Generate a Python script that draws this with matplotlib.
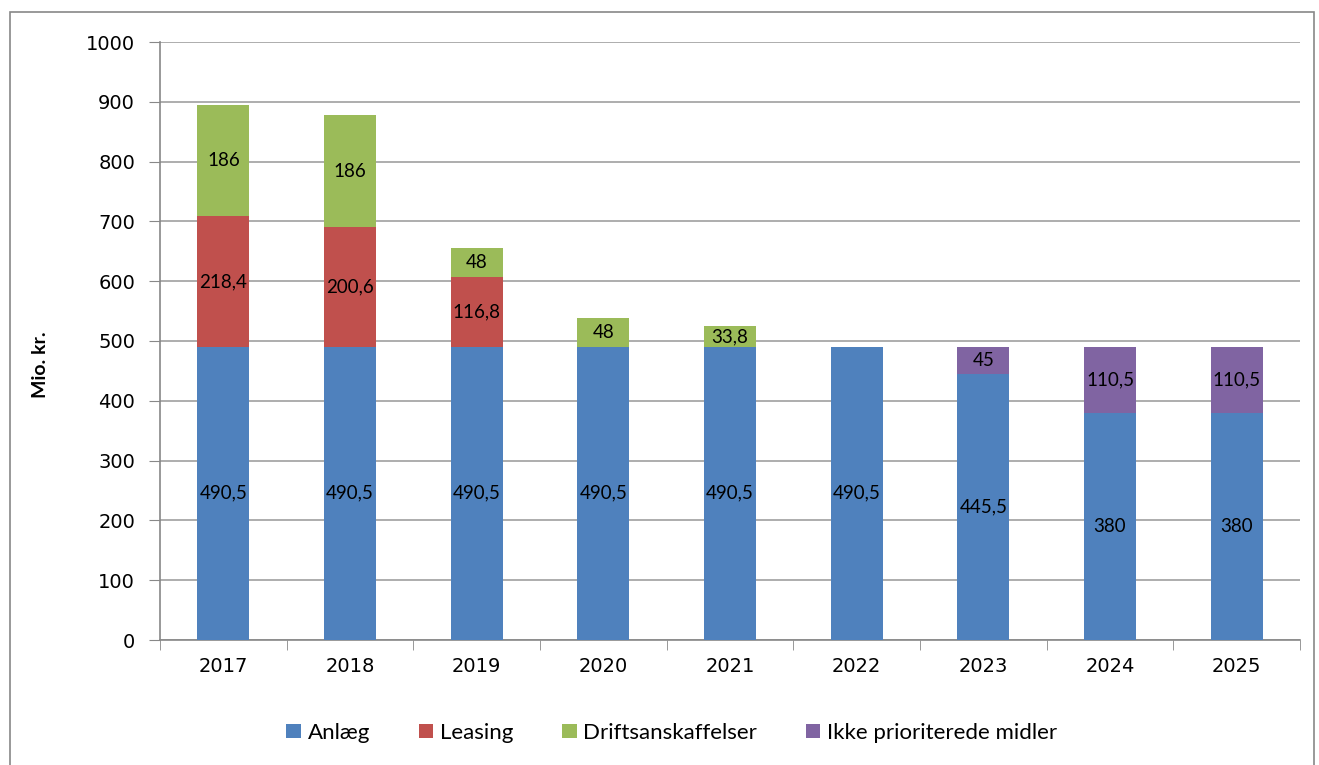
import numpy as np
import matplotlib.pyplot as plt
from matplotlib.patches import Rectangle

years = ['2017', '2018', '2019', '2020', '2021', '2022', '2023', '2024', '2025']
anlaeg = [490.5, 490.5, 490.5, 490.5, 490.5, 490.5, 445.5, 380, 380]
leasing = [218.4, 200.6, 116.8, 0, 0, 0, 0, 0, 0]
drift = [186, 186, 48, 48, 33.8, 0, 0, 0, 0]
ikke = [0, 0, 0, 0, 0, 0, 45, 110.5, 110.5]

series = [
    ('Anlæg', anlaeg, '#4F81BD'),
    ('Leasing', leasing, '#C0504D'),
    ('Driftsanskaffelser', drift, '#9BBB59'),
    ('Ikke prioriterede midler', ikke, '#8064A2'),
]

plt.rcParams['font.family'] = ['Lato', 'DejaVu Sans']

fig = plt.figure(figsize=(13.19, 7.65), dpi=100)
ax = fig.add_axes([160 / 1319, 125 / 765, 1140 / 1319, 598 / 765])

x = np.arange(len(years))
bottom = np.zeros(len(years))
for name, vals, color in series:
    vals = np.array(vals, dtype=float)
    ax.bar(x, vals, 0.41, bottom=bottom, color=color, label=name, zorder=3)
    for xi, b, v in zip(x, bottom, vals):
        if v > 0:
            ax.text(xi, b + v / 2, f'{v:g}'.replace('.', ','), ha='center', va='center',
                    fontsize=13.5, color='black', zorder=4)
    bottom += vals

ax.set_xlim(-0.5, len(years) - 0.5)
ax.set_ylim(0, 1000)
ax.set_yticks(range(0, 1001, 100))
ax.set_xticks(x)
ax.set_xticklabels(years)
ax.set_xticks(np.arange(-0.5, len(years), 1), minor=True)
ax.tick_params(axis='x', which='major', length=0, pad=12, labelsize=14)
ax.tick_params(axis='x', which='minor', length=7, color='#888888')
ax.tick_params(axis='y', length=8, color='#888888', pad=10, labelsize=14)
for lab in ax.get_yticklabels() + ax.get_xticklabels():
    lab.set_family('DejaVu Sans')
ax.grid(axis='y', color='#A0A0A0', linewidth=1.2, zorder=0)
for s in ['top', 'right']:
    ax.spines[s].set_visible(False)
for s in ['left', 'bottom']:
    ax.spines[s].set_color('#888888')
    ax.spines[s].set_linewidth(1.2)

ax.set_ylabel('Mio. kr.', fontsize=14, fontweight='bold')
ax.yaxis.set_label_coords(-0.097, 0.46)

ax.legend(loc='upper center', bbox_to_anchor=(0.449, -0.105), ncol=4, frameon=False,
          fontsize=16, handlelength=0.65, handleheight=0.65, handletextpad=0.3,
          columnspacing=2.2)

fig.patches.append(Rectangle((10 / 1319, -0.01), 1304 / 1319, (765 - 12) / 765 + 0.01,
                             transform=fig.transFigure, fill=False,
                             edgecolor='#888888', linewidth=1.2))

fig.savefig('out.png', dpi=100)
